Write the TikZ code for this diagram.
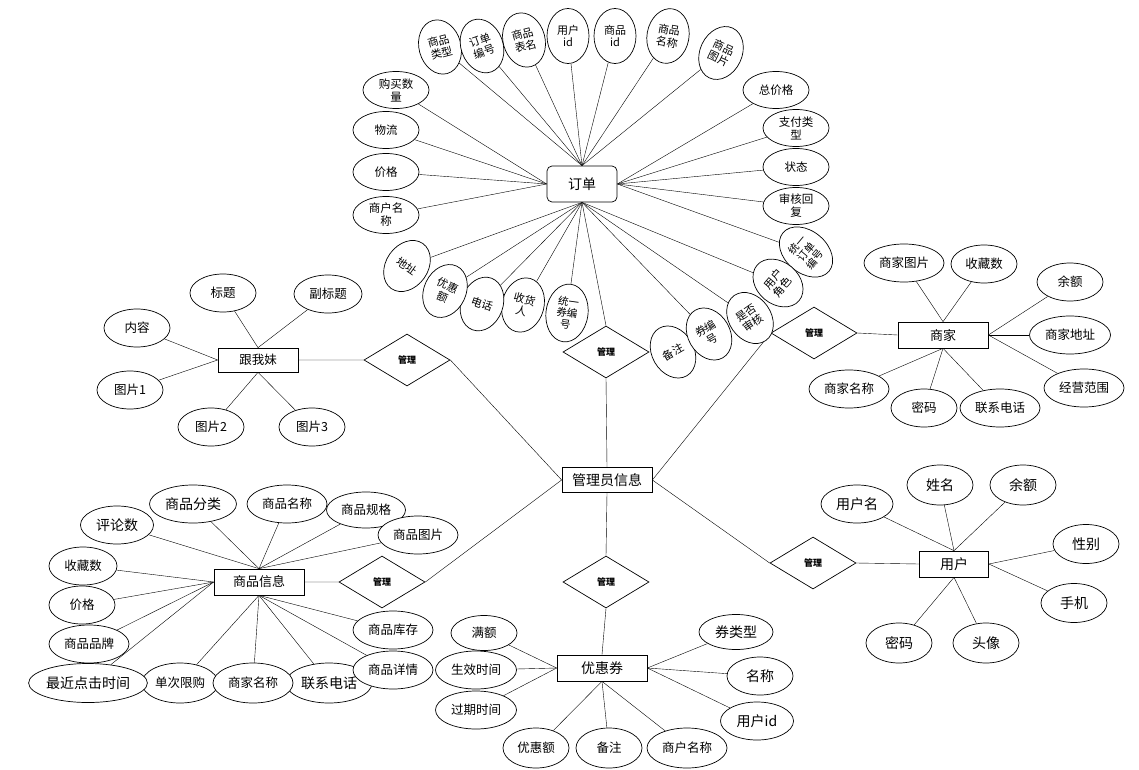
\documentclass[tikz,border=0pt]{standalone}
\usepackage{fontspec}
\setmainfont{Noto Sans CJK SC}
\usepackage{tikz}
\usetikzlibrary{shapes.geometric, backgrounds}

\begin{document}
\begin{tikzpicture}[x=1pt, y=-1pt, line width=0.7pt,
    entity/.style={draw, fill=white, rectangle, minimum width=90, minimum height=26, inner sep=1pt, font=\fontsize{13}{15}\selectfont},
    rel/.style={draw, fill=white, diamond, minimum width=86, minimum height=52, inner sep=0pt, font=\fontsize{9}{10}\selectfont\bfseries},
    attr/.style={draw, fill=white, ellipse, minimum width=66, minimum height=38, inner sep=0pt, font=\fontsize{12.5}{14}\selectfont},
    battr/.style={attr, font=\fontsize{14}{16}\selectfont},
    sattr/.style={attr, minimum height=37, align=center, font=\fontsize{11.5}{13}\selectfont},
    tattr/.style={sattr, minimum width=42, minimum height=55, font=\fontsize{11}{12.5}\selectfont}]
  \useasboundingbox (0,0) rectangle (1139,770);

  % centre
  \node[entity, minimum height=25, font=\fontsize{14}{16}\selectfont] (gly) at (607,480) {管理员信息};
  \node[rel] (gl1) at (407,360) {管理};
  \node[rel] (gl2) at (606,352) {管理};
  \node[rel] (gl3) at (814,333) {管理};
  \node[rel] (gl4) at (813,563) {管理};
  \node[rel] (gl5) at (606,582) {管理};
  \node[rel] (gl6) at (382,582) {管理};

  % order
  \node[entity, rounded corners=5, minimum width=70, minimum height=36, font=\fontsize{14}{16}\selectfont] (dd) at (582,184) {订单};
  \node[tattr, rotate=15] (dd1) at (440,47) {商品\\类型};
  \node[tattr, rotate=20] (dd2) at (482,46) {订单\\编号};
  \node[tattr, rotate=15] (dd3) at (524,40) {商品\\表名};
  \node[tattr] (dd4) at (568,36) {用户\\id};
  \node[tattr] (dd5) at (615,36) {商品\\id};
  \node[tattr, rotate=-10] (dd6) at (668,36) {商品\\名称};
  \node[tattr, rotate=-25] (dd7) at (721,53) {商品\\图片};
  \node[sattr] (dd8) at (396,90) {购买数\\量};
  \node[sattr] (dd9) at (386,130) {物流};
  \node[sattr] (dd10) at (386,172) {价格};
  \node[sattr] (dd11) at (386,215) {商户名\\称};
  \node[sattr] (dd12) at (776,90) {总价格};
  \node[sattr] (dd13) at (796,128) {支付类\\型};
  \node[sattr] (dd14) at (796,167) {状态};
  \node[sattr] (dd15) at (796,206) {审核回\\复};
  \node[tattr, rotate=50, minimum height=60, font=\fontsize{10.5}{11.5}\selectfont] (dd16) at (806,252) {统一\\订单\\编号};
  \node[tattr, rotate=50] (dd17) at (778,283) {用户\\角色};
  \node[tattr, rotate=35] (dd18) at (750,318) {是否\\审核};
  \node[tattr, rotate=30] (dd20) at (673,352) {备注};
  \node[tattr, rotate=30] (dd19) at (709,334) {券编\\号};
  \node[tattr, rotate=-8, minimum height=58, font=\fontsize{10.5}{11.5}\selectfont] (dd21) at (567,313) {统一\\券编\\号};
  \node[tattr, rotate=-15] (dd22) at (523,305) {收货\\人};
  \node[tattr, rotate=-20] (dd23) at (482,304) {电话};
  \node[tattr, rotate=-25] (dd24) at (445,291) {优惠\\额};
  \node[tattr, rotate=-35] (dd25) at (407,266) {地址};

  % gen wo mei
  \node[entity, minimum width=80, minimum height=24, font=\fontsize{12.5}{14}\selectfont] (gwm) at (258,360) {跟我妹};
  \node[attr] (gwm1) at (223,293) {标题};
  \node[attr, minimum width=68] (gwm2) at (328,294) {副标题};
  \node[attr] (gwm3) at (137,328) {内容};
  \node[attr] (gwm4) at (130,390) {图片1};
  \node[attr] (gwm5) at (211,427) {图片2};
  \node[attr] (gwm6) at (312,427) {图片3};

  % merchant
  \node[entity, font=\fontsize{13}{15}\selectfont] (sj) at (943,335) {商家};
  \node[attr, minimum width=80] (sj1) at (904,263) {商家图片};
  \node[attr] (sj2) at (984,264) {收藏数};
  \node[attr] (sj3) at (1070,282) {余额};
  \node[attr, minimum width=81] (sj4) at (1070,335) {商家地址};
  \node[attr, minimum width=80] (sj5) at (1084,388) {经营范围};
  \node[attr, minimum width=80] (sj6) at (849,389) {商家名称};
  \node[attr] (sj7) at (924,408) {密码};
  \node[attr, minimum width=80] (sj8) at (1000,408) {联系电话};

  % user
  \node[entity, minimum width=69, font=\fontsize{14}{16}\selectfont] (yh) at (954,564) {用户};
  \node[battr, minimum width=72] (yh1) at (857,504) {用户名};
  \node[battr, minimum height=40] (yh2) at (940,485) {姓名};
  \node[battr, minimum height=40] (yh3) at (1023,485) {余额};
  \node[battr, minimum height=39] (yh4) at (1086,544) {性别};
  \node[battr, minimum height=39] (yh5) at (1074,603) {手机};
  \node[battr, minimum height=40] (yh6) at (899,643) {密码};
  \node[battr, minimum height=40] (yh7) at (986,643) {头像};

  % coupon
  \node[entity, font=\fontsize{14}{16}\selectfont] (yhq) at (602,668) {优惠券};
  \node[attr, minimum height=35] (yhq1) at (484,633) {满额};
  \node[attr, minimum width=81] (yhq2) at (476,670) {生效时间};
  \node[attr, minimum width=81] (yhq3) at (476,710) {过期时间};
  \node[attr, minimum height=40] (yhq4) at (536,748) {优惠额};
  \node[attr, minimum height=40] (yhq5) at (609,748) {备注};
  \node[attr, minimum width=80, minimum height=40] (yhq6) at (687,748) {商户名称};
  \node[battr, minimum width=74, minimum height=35] (yhq7) at (736,632) {券类型};
  \node[battr] (yhq8) at (760,676) {名称};
  \node[battr, minimum width=73] (yhq9) at (757,721) {用户id};

  % goods
  \node[entity] (sp) at (259,582) {商品信息};
  \node[battr, minimum width=73] (sp1) at (117,525) {评论数};
  \node[battr, minimum width=87] (sp2) at (193,504) {商品分类};
  \node[attr, minimum width=80] (sp3) at (287,504) {商品名称};
  \node[attr, minimum width=79, minimum height=36] (sp4) at (366,510) {商品规格};
  \node[attr, minimum width=80] (sp5) at (418,535) {商品图片};
  \node[attr, minimum width=68] (sp6) at (83,566) {收藏数};
  \node[attr] (sp7) at (82,605) {价格};
  \node[attr, minimum width=80] (sp8) at (89,644) {商品品牌};
  \node[attr, minimum width=76, minimum height=40] (sp10) at (180,683) {单次限购};
  \node[battr, minimum width=86, minimum height=40] (sp12) at (329,683) {联系电话};
  \node[battr, minimum width=114, minimum height=39] (sp9) at (88,683) {最近点击时间};
  \node[attr, minimum width=80, minimum height=40] (sp11) at (253,683) {商家名称};
  \node[attr, minimum width=80] (sp13) at (393,630) {商品库存};
  \node[attr, minimum width=80] (sp14) at (393,670) {商品详情};

  \begin{scope}[on background layer]
    \draw (gwm.east) -- (gl1.west) (gl1.east) -- (gly.west);
    \draw (dd.south) -- (gl2.north) (gl2.south) -- (gly.north);
    \draw (gly.east) -- (gl3.west) (gl3.east) -- (sj.west);
    \draw (gly.east) -- (gl4.west) (gl4.east) -- (yh.west);
    \draw (gly.south) -- (gl5.north) (gl5.south) -- (yhq.north);
    \draw (gly.west) -- (gl6.east) (gl6.west) -- (sp.east);

    \foreach \i in {1,...,7} \draw (dd\i) -- (dd.north);
    \foreach \i in {8,...,11} \draw (dd\i) -- (dd.west);
    \foreach \i in {12,...,16} \draw (dd\i) -- (dd.east);
    \foreach \i in {17,18,19,21,22,23,24,25} \draw (dd\i) -- (dd.south);

    \foreach \i/\a in {1/north,2/north,3/west,4/west,5/south,6/south} \draw (gwm\i) -- (gwm.\a);
    \foreach \i/\a in {1/north,2/north,3/east,4/east,5/east,6/south,7/south,8/south} \draw (sj\i) -- (sj.\a);
    \foreach \i/\a in {1/north,2/north,3/north,4/east,5/east,6/south,7/south} \draw (yh\i) -- (yh.\a);
    \foreach \i/\a in {1/west,2/west,3/west,4/south,5/south,6/south,7/east,8/east,9/east} \draw (yhq\i) -- (yhq.\a);
    \foreach \i/\a in {1/north,2/north,3/north,4/north,5/north,6/west,7/west,8/west,9/west,10/south,11/south,12/south,13/south,14/south} \draw (sp\i) -- (sp.\a);
  \end{scope}
\end{tikzpicture}
\end{document}
